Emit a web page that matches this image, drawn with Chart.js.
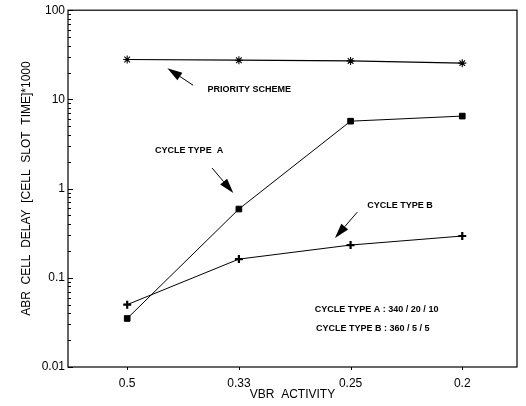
<!DOCTYPE html>
<html>
<head>
<meta charset="utf-8">
<script src="https://cdn.jsdelivr.net/npm/chart.js@4"></script>
<style>
  html, body { margin: 0; padding: 0; background: #fff; }
  #wrap { width: 526px; height: 406px; position: relative; }
</style>
</head>
<body>
<div id="wrap"><canvas id="delayChart"></canvas></div>
<script>
// VBR activity categories and ABR delay per scheme
const xLabels = ['0.5', '0.33', '0.25', '0.2'];
const priorityScheme = [28, 27.5, 27, 25.5];
const cycleTypeA = [0.035, 0.59, 5.7, 6.5];
const cycleTypeB = [0.05, 0.162, 0.233, 0.294];
const yDecades = [0.01, 0.1, 1, 10, 100];

// annotation text and arrows, in data units (x = category index)
const noteTexts = [
    { text: 'PRIORITY SCHEME', x: 0.72, y: 13.0 },
    { text: 'CYCLE TYPE  A', x: 0.25, y: 2.7 },
    { text: 'CYCLE TYPE B', x: 2.15, y: 0.65 },
    { text: 'CYCLE TYPE A : 340 / 20 / 10', x: 1.68, y: 0.0436 },
    { text: 'CYCLE TYPE B : 360 / 5 / 5', x: 1.69, y: 0.0273 },
];
const noteArrows = [
    { from: [0.59, 14.4], to: [0.36, 22.4] },
    { from: [0.76, 1.70], to: [0.95, 0.89] },
    { from: [2.06, 0.545], to: [1.86, 0.279] },
];

Chart.defaults.font.family = "Arial, 'Liberation Sans', sans-serif";
Chart.defaults.color = '#000';

const toPoints = arr => arr.map((v, i) => ({ x: i, y: v }));

function drawArrow(ctx, x1, y1, x2, y2) {
    const ang = Math.atan2(y2 - y1, x2 - x1);
    const headLen = 15, headHalf = 4.5;
    const bx = x2 - headLen * Math.cos(ang);
    const by = y2 - headLen * Math.sin(ang);
    ctx.beginPath();
    ctx.moveTo(x1, y1);
    ctx.lineTo(bx, by);
    ctx.stroke();
    ctx.beginPath();
    ctx.moveTo(x2, y2);
    ctx.lineTo(bx + headHalf * Math.sin(ang), by - headHalf * Math.cos(ang));
    ctx.lineTo(bx - headHalf * Math.sin(ang), by + headHalf * Math.cos(ang));
    ctx.closePath();
    ctx.fill();
}

// frame, inward log ticks, arrows and notes
const framePlugin = {
    id: 'framePlugin',
    afterDraw(chart) {
        const { ctx, chartArea: a, scales: { x, y } } = chart;
        ctx.save();
        ctx.strokeStyle = '#000';
        ctx.fillStyle = '#000';
        ctx.lineWidth = 1.2;
        ctx.strokeRect(a.left, a.top, a.right - a.left, a.bottom - a.top);

        ctx.lineWidth = 1;
        ctx.beginPath();
        yDecades.forEach((d, k) => {
            const py = Math.round(y.getPixelForValue(d)) + 0.5;
            ctx.moveTo(a.left, py);
            ctx.lineTo(a.left + 5, py);
            if (k < yDecades.length - 1) {
                for (let m = 2; m <= 9; m++) {
                    const my = Math.round(y.getPixelForValue(d * m)) + 0.5;
                    ctx.moveTo(a.left, my);
                    ctx.lineTo(a.left + 3, my);
                }
            }
        });
        xLabels.forEach((_, i) => {
            const px = Math.round(x.getPixelForValue(i)) + 0.5;
            ctx.moveTo(px, a.bottom);
            ctx.lineTo(px, a.bottom + 3);
        });
        ctx.stroke();

        ctx.lineWidth = 1;
        noteArrows.forEach(ar => {
            drawArrow(ctx,
                x.getPixelForValue(ar.from[0]), y.getPixelForValue(ar.from[1]),
                x.getPixelForValue(ar.to[0]), y.getPixelForValue(ar.to[1]));
        });

        ctx.font = "bold 9px Arial, 'Liberation Sans', sans-serif";
        ctx.textAlign = 'left';
        ctx.textBaseline = 'middle';
        noteTexts.forEach(n => {
            ctx.fillText(n.text, x.getPixelForValue(n.x), y.getPixelForValue(n.y));
        });
        ctx.restore();
    }
};

new Chart(document.getElementById('delayChart'), {
    type: 'line',
    data: {
        datasets: [
            {
                label: 'PRIORITY SCHEME',
                data: toPoints(priorityScheme),
                borderColor: '#000',
                backgroundColor: '#000',
                borderWidth: 1.2,
                pointStyle: 'star',
                pointRadius: 4,
                pointBorderWidth: 1.1,
            },
            {
                label: 'CYCLE TYPE A',
                data: toPoints(cycleTypeA),
                borderColor: '#000',
                backgroundColor: '#000',
                borderWidth: 1,
                pointStyle: 'rect',
                pointRadius: 4,
                pointBorderWidth: 1,
            },
            {
                label: 'CYCLE TYPE B',
                data: toPoints(cycleTypeB),
                borderColor: '#000',
                backgroundColor: '#000',
                borderWidth: 1,
                pointStyle: 'cross',
                pointRadius: 4,
                pointBorderWidth: 2.2,
            },
        ],
    },
    options: {
        responsive: true,
        maintainAspectRatio: false,
        animation: false,
        layout: { padding: { top: 10, right: 9, left: 0, bottom: 0 } },
        plugins: {
            legend: { display: false },
            tooltip: { enabled: false },
        },
        scales: {
            x: {
                type: 'linear',
                min: -0.53,
                max: 3.49,
                afterBuildTicks: s => { s.ticks = xLabels.map((_, i) => ({ value: i })); },
                afterFit: s => { s.height = 39; },
                ticks: {
                    callback: v => xLabels[v],
                    font: { size: 12 },
                    padding: 1,
                    maxRotation: 0,
                },
                grid: { display: false },
                border: { display: false },
                title: {
                    display: true,
                    text: 'VBR  ACTIVITY',
                    font: { size: 12 },
                    padding: { top: 0, bottom: 4 },
                },
            },
            y: {
                type: 'logarithmic',
                min: 0.01,
                max: 100,
                afterBuildTicks: s => { s.ticks = yDecades.map(v => ({ value: v, major: true })); },
                afterFit: s => { s.width = 68; },
                ticks: {
                    callback: v => String(v),
                    font: { size: 12 },
                    padding: 3,
                },
                grid: { display: false, drawTicks: false },
                border: { display: false },
                title: {
                    display: true,
                    text: 'ABR  CELL  DELAY  [CELL  SLOT  TIME]*1000',
                    font: { size: 12 },
                    padding: { top: 19, bottom: 0 },
                },
            },
        },
    },
    plugins: [framePlugin],
});
</script>
</body>
</html>
